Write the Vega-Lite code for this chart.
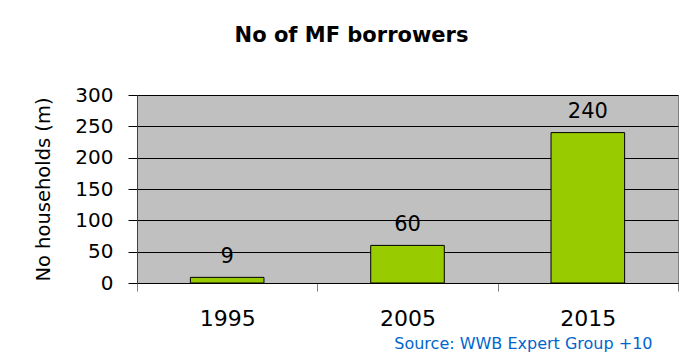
{
  "$schema": "https://vega.github.io/schema/vega-lite/v6.json",
  "width": 541,
  "height": 188,
  "autosize": {"type": "none"},
  "padding": {"left": 137, "top": 95, "right": 10, "bottom": 69},
  "background": "white",
  "title": {
    "text": "No of MF borrowers",
    "font": "DejaVu Sans",
    "fontSize": 21,
    "fontWeight": "bold",
    "color": "#000000",
    "anchor": "middle",
    "frame": "group",
    "dx": -56,
    "offset": 22,
    "baseline": "alphabetic"
  },
  "data": {
    "values": [
      {"year": "1995", "households": 9},
      {"year": "2005", "households": 60},
      {"year": "2015", "households": 240}
    ]
  },
  "encoding": {
    "x": {
      "field": "year",
      "type": "ordinal",
      "scale": {"paddingInner": 0, "paddingOuter": 0},
      "axis": {
        "tickBand": "extent",
        "labelAngle": 0,
        "labelFont": "DejaVu Sans",
        "labelFontSize": 22,
        "labelColor": "#000000",
        "labelPadding": 17,
        "tickSize": 8,
        "tickColor": "#808080",
        "domainColor": "#000000",
        "grid": false,
        "title": "Source: WWB Expert Group +10",
        "titleFont": "DejaVu Sans",
        "titleFontSize": 16,
        "titleFontWeight": "normal",
        "titleColor": "#0066cc",
        "titleAlign": "right",
        "titleAnchor": "end",
        "titleBaseline": "alphabetic",
        "titleX": 515,
        "titleY": 65
      }
    },
    "y": {
      "field": "households",
      "type": "quantitative",
      "scale": {"domain": [0, 300], "nice": false},
      "axis": {
        "values": [0, 50, 100, 150, 200, 250, 300],
        "labelOverlap": false,
        "grid": true,
        "gridColor": "#000000",
        "gridOpacity": 1,
        "gridWidth": 1,
        "tickSize": 9,
        "tickColor": "#000000",
        "domainColor": "#404040",
        "labelFont": "DejaVu Sans",
        "labelFontSize": 20,
        "labelColor": "#000000",
        "labelPadding": 15,
        "title": "No households (m)",
        "titleFont": "DejaVu Sans",
        "titleFontSize": 19.5,
        "titleFontWeight": "normal",
        "titleColor": "#000000",
        "titlePadding": 21
      }
    }
  },
  "layer": [
    {
      "mark": {"type": "bar", "width": {"band": 0.408}, "fill": "#99cc00", "stroke": "#000000", "strokeWidth": 1}
    },
    {
      "mark": {"type": "text", "baseline": "alphabetic", "dy": -14.5, "font": "DejaVu Sans", "fontSize": 21, "color": "#000000"},
      "encoding": {
        "text": {"field": "households", "type": "quantitative"}
      }
    }
  ],
  "config": {
    "view": {"fill": "#c0c0c0", "stroke": "#808080"}
  }
}
